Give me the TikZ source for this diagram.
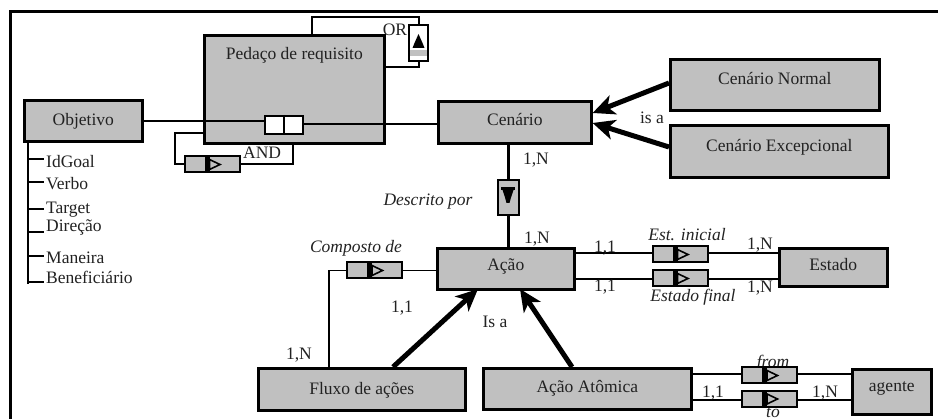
\documentclass[tikz,border=0pt]{standalone}
\usepackage{fontspec}
\setmainfont{Liberation Serif}
\usetikzlibrary{arrows.meta}
\definecolor{boxgray}{HTML}{C0C0C0}
\definecolor{ink}{HTML}{222222}
\begin{document}
\begin{tikzpicture}[x=1pt,y=-1pt,
  every node/.style={font=\fontsize{17.5}{20}\selectfont, text=ink},
  ent/.style={draw=black, line width=2.6pt, fill=boxgray, anchor=north west, inner xsep=0pt, inner ysep=0pt},
  relh/.style={draw=black, line width=2pt, fill=boxgray, inner sep=0pt, minimum width=55pt, minimum height=16pt,
    path picture={
      \begin{scope}[shift={(path picture bounding box.center)}]
        \fill[black] (-7.5,-9) rectangle (-2.5,9);
        \draw[black, line width=1.6pt, fill=boxgray, line join=miter] (-2.5,-5) -- (8,0) -- (-2.5,5) -- cycle;
      \end{scope}}},
  relv/.style={draw=black, line width=2pt, fill=boxgray, inner sep=0pt, minimum width=21pt, minimum height=35pt,
    path picture={
      \begin{scope}[shift={(path picture bounding box.center)}]
        \fill[black] (-7,-10.5) rectangle (7,-7);
        \fill[black] (-5.5,-7.5) -- (5.5,-7.5) -- (3,0) -- (1.5,5.5) -- (-1.5,5.5) -- (-3,0) -- cycle;
      \end{scope}}},
  conn/.style={draw=black, line width=1.4pt},
  heavy/.style={draw=black, line width=2.6pt},
  isa/.style={draw=black, line width=5pt, -{Stealth[length=22pt, width=20pt, inset=6pt]}},
  lbl/.style={inner sep=0pt},
  ilbl/.style={inner sep=0pt, font=\fontsize{17.5}{20}\selectfont\itshape},
  attr/.style={inner sep=0pt, anchor=west},
]
\useasboundingbox (0,0) rectangle (938,419);
\fill[white] (0,0) rectangle (938,419);
% outer frame (cropped)
\draw[line width=3pt] (938,12) -- (10,12) -- (10,419);

% entity boxes
\node[ent, minimum width=180pt, text height=24pt, text depth=84pt] (ped) at (203,34) {Pedaço de requisito};
\node[ent, minimum width=118pt, text height=25pt, text depth=16pt] (obj) at (23,99) {Objetivo};
\node[ent, minimum width=153pt, text height=24pt, text depth=18pt] (cen) at (437,100) {Cenário};
\node[ent, minimum width=209pt, text height=25pt, text depth=26pt] (cnorm) at (669,58) {Cenário Normal};
\node[ent, minimum width=218pt, text height=26pt, text depth=26pt] (cexc) at (669,124) {Cenário Excepcional};
\node[ent, minimum width=137pt, text height=22pt, text depth=19pt] (acao) at (436,247) {Ação};
\node[ent, minimum width=108pt, text height=22pt, text depth=16pt] (est) at (778,247) {Estado};
\node[ent, minimum width=207pt, text height=26pt, text depth=16pt] (flux) at (257,367) {Fluxo de ações};
\node[ent, minimum width=208pt, text height=24pt, text depth=17pt] (atom) at (482,367) {Ação Atômica};
\node[ent, minimum width=79pt, text height=22pt, text depth=23pt] (agt) at (851,368) {agente};

% attribute tree of Objetivo
\draw[line width=2.6pt] (28,140) -- (28,284);
\draw[line width=2.6pt] (28,159) -- (44,159);
\draw[line width=2.6pt] (28,182) -- (44,182);
\draw[line width=1.4pt] (28,209) -- (44,209);
\draw[line width=1.4pt] (28,232) -- (44,232);
\draw[line width=1.4pt] (28,256) -- (44,256);
\draw[line width=1.4pt] (28,282) -- (44,282);
\node[attr] (a1) at (46,162) {IdGoal};
\node[attr] (a2) at (46,184) {Verbo};
\node[attr] (a3) at (46,210) {Target};
\node[attr] (a4) at (46,227) {Direção};
\node[attr] (a5) at (46,258) {Maneira};
\node[attr] (a6) at (46,277) {Beneficiário};

% split box inside Pedaco
\node[draw=black, line width=2.4pt, fill=white, minimum width=38pt, minimum height=18pt, inner sep=0pt] (split) at (284,125) {};
\draw[line width=2pt] (split.north) -- (split.south);
\draw[heavy] (obj.east |- 0,121) coordinate (objc) -- (split.west |- objc);
\draw[conn] (split.east |- 0,124) coordinate (splr) -- (cen.west |- splr);

% OR loop
\node[draw=black, line width=2pt, fill=white, minimum width=19pt, minimum height=36pt, inner sep=0pt,
  path picture={
    \begin{scope}[shift={(path picture bounding box.center)}]
      \fill[boxgray] (-10,7) rectangle (10,13);
      \fill[black] (0,-9) -- (4,0) -- (6,5) -- (-6,5) -- (-4,0) -- cycle;
    \end{scope}}] (orb) at (418.5,43) {};
\node[lbl] (orl) at (395,30) {OR};
\draw[line width=2pt] (312,34) coordinate (ort) -- (ort |- 0,17) -| (orb.north);
\draw[line width=2pt] (ped.east |- 0,67) -| (orb.south);

% AND loop
\node[relh] (andb) at (212,164.5) {};
\node[lbl, anchor=west] (andl) at (243,153) {AND};
\draw[line width=2pt] (ped.west |- 0,133) -- (175,133) |- (andb.west);
\draw[line width=2pt] (andb.east) -| (293,142);

% is-a arrows to Cenario
\draw[isa] (cnorm.west |- 0,83) -- (cen.east |- 0,113);
\draw[isa] (cexc.west |- 0,147) -- (cen.east |- 0,123);
\node[lbl] (isa1) at (652,118) {is a};

% Descrito por
\node[relv] (desc) at (508,197.5) {};
\draw[line width=3pt] (cen.south -| desc) -- (desc.north);
\draw[line width=3pt] (desc.south) -- (acao.north -| desc);
\node[lbl] (n1) at (536,160) {1,N};
\node[ilbl] (descl) at (428,202) {Descrito por};
\node[lbl] (n2) at (537,239) {1,N};

% Composto de
\node[relh] (comp) at (374.5,270.5) {};
\draw[conn] (acao.west |- comp) -- (comp.east);
\draw[conn] (comp.west) -- (329,270.5) -- (flux.north -| 329,0);
\node[ilbl] (compl) at (356,248) {Composto de};
\node[lbl] (c11) at (402,308) {1,1};
\node[lbl] (c1n) at (299,355) {1,N};

% Is a arrows to Acao
\draw[isa] (393,367) -- (478,289);
\draw[isa] (572,367) -- (520,289);
\node[lbl] (isa2) at (495,322) {Is a};

% Estado relations
\node[relh] (ini) at (680,254.5) {};
\node[relh] (fin) at (680,278.5) {};
\draw[conn] (acao.east |- 0,253) -- (ini.west |- 0,253);
\draw[conn] (ini.east |- 0,253) -- (est.west |- 0,253);
\draw[conn] (acao.east |- 0,279) -- (fin.west |- 0,279);
\draw[conn] (fin.east |- 0,279) -- (est.west |- 0,279);
\node[lbl] (e1) at (605,248) {1,1};
\node[ilbl] (inil) at (687,235) {Est. inicial};
\node[lbl] (e2) at (760,245) {1,N};
\node[lbl] (e3) at (605,287) {1,1};
\node[ilbl] (finl) at (693,297) {Estado final};
\node[lbl] (e4) at (760,288) {1,N};

% agente relations
\node[ilbl] (froml) at (773,363) {from};
\node[ilbl] (tol) at (773,413) {to};
\node[relh] (fromb) at (769.5,375.5) {};
\node[relh] (tob) at (769.5,399) {};
\draw[line width=2.4pt] (atom.east |- 0,374) -- (fromb.west |- 0,374);
\draw[line width=2.4pt] (fromb.east |- 0,374) -- (agt.west |- 0,374);
\draw[conn] (atom.east |- 0,400) -- (tob.west |- 0,400);
\draw[conn] (tob.east |- 0,400) -- (agt.west |- 0,400);
\node[lbl] (g1) at (713,393) {1,1};
\node[lbl] (g2) at (825,393) {1,N};
\end{tikzpicture}
\end{document}
